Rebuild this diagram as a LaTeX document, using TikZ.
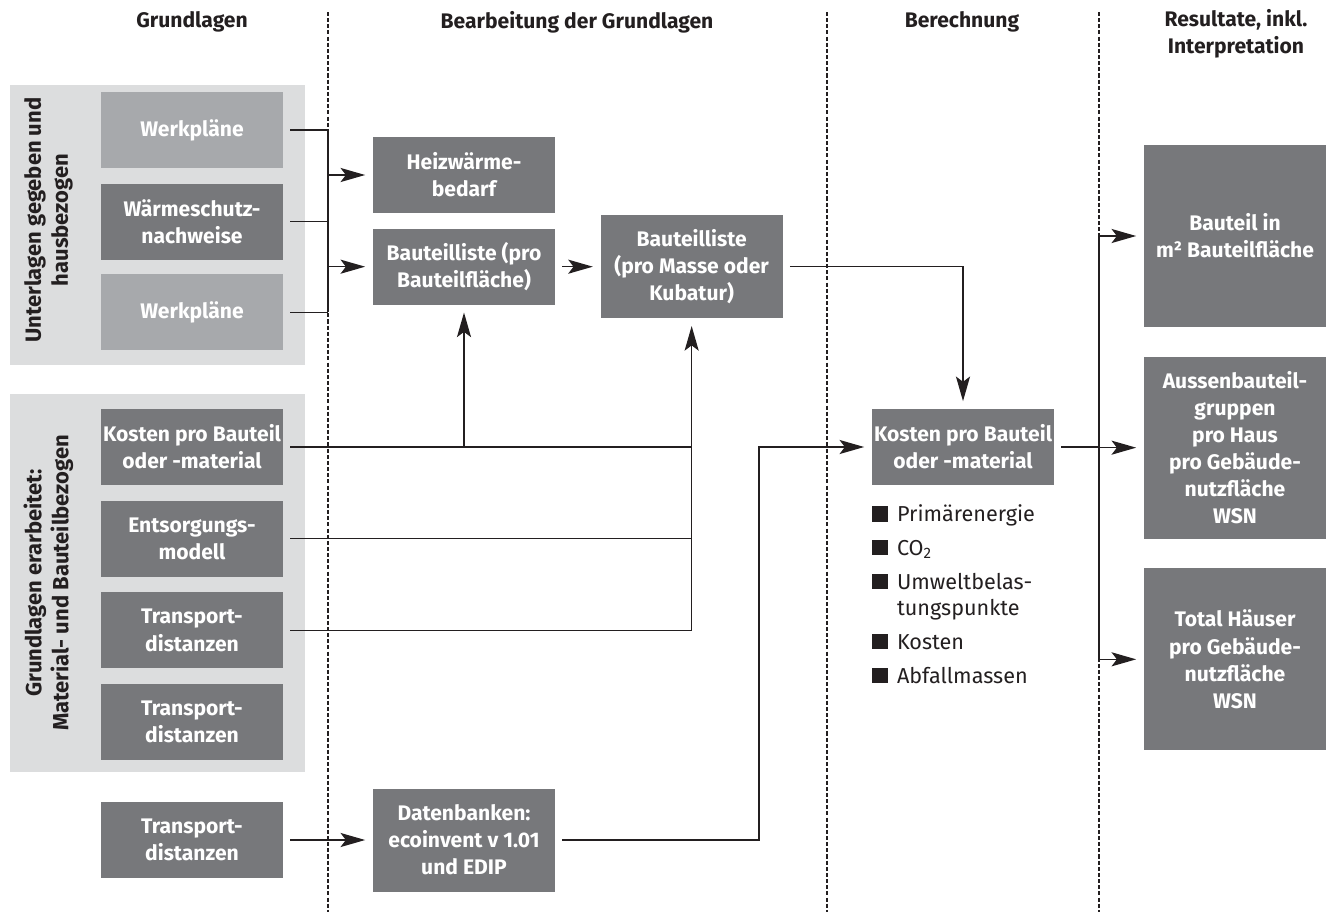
\documentclass[tikz,border=0pt]{standalone}
\usepackage{fontspec}
\setmainfont{Fira Sans}
\usetikzlibrary{arrows.meta,positioning,calc}
\definecolor{BoxDark}  {RGB}{119,120,123}
\definecolor{BoxLight} {RGB}{167,169,172}
\definecolor{PanelGray}{RGB}{220,221,222}
\definecolor{LineDark} {RGB}{ 35, 31, 32}
\newcommand{\bsq}{\textcolor{LineDark}{\rule{0.32cm}{0.31cm}}\hspace{0.18cm}}
\tikzset{
  %% Kaesten: dunkel / hell / gross / dreizeilig
  dbox/.style={rectangle,fill=BoxDark,text=white,
               minimum width=3.64cm,minimum height=1.52cm,inner sep=1pt,
               font=\fontsize{12pt}{15.4pt}\selectfont\bfseries,align=center},
  lbox/.style={dbox,fill=BoxLight},
  tbox/.style={dbox,minimum height=2.06cm},
  rbox/.style={dbox,minimum height=3.64cm},
  %% Hintergrundflaechen und Beschriftung
  panel/.style={rectangle,fill=PanelGray,minimum width=5.9cm,inner sep=0pt},
  plabel/.style={rotate=90,text=LineDark,align=center,
                 font=\fontsize{12.5pt}{15.4pt}\selectfont\bfseries},
  colhead/.style={text=LineDark,align=center,
                  font=\fontsize{12pt}{15.4pt}\selectfont\bfseries},
  bullets/.style={text=LineDark,align=left,inner sep=0pt,
                  font=\fontsize{12.3pt}{14.8pt}\selectfont},
  %% Linien
  sep/.style={LineDark,line width=0.6pt,dash pattern=on 2.3pt off 1.2pt},
  rail/.style={LineDark,line width=0.85pt},
  link/.style={rail,shorten <=0.14cm},
  feed/.style={rail,-{Stealth[length=14pt,width=8pt,inset=3pt]},shorten >=0.15cm},
  flow/.style={feed,shorten <=0.14cm},
}
\begin{document}
\begin{tikzpicture}[x=0.02cm,y=-0.02cm]
  \useasboundingbox (0,0) rectangle (1332,913);

  % Spaltentrenner
  \coordinate (sepA) at (328,12);
  \coordinate (sepB) at (827,12);
  \coordinate (sepC) at (1099,12);
  \draw[sep] (sepA) -- ++(0,900);
  \draw[sep] (sepB) -- ++(0,900);
  \draw[sep] (sepC) -- ++(0,900);

  % Spaltenkoepfe
  \node[colhead] (hA) at (192,22) {Grundlagen};
  \node[colhead] (hB) at (577,22) {Bearbeitung der Grundlagen};
  \node[colhead] (hC) at (962,22) {Berechnung};
  \node[colhead] (hD) at (1236,34) {Resultate, inkl.\\Interpretation};

  % Grundlagen
  \node[panel,minimum height=5.6cm] (pnlA) at (157.5,225) {};
  \node[panel,minimum height=7.56cm] (pnlB) at (157.5,583) {};
  \node[plabel] (pnlAtxt) at (48.5,220) {Unterlagen gegeben und\\hausbezogen};
  \node[plabel] (pnlBtxt) at (48.5,583) {Grundlagen erarbeitet:\\Material- und Bauteilbezogen};

  \node[lbox] (wp1) at (192,130) {Werkpläne};
  \node[dbox,below=0.3cm of wp1] (wsn) {Wärmeschutz-\\nachweise};
  \node[lbox,below=0.28cm of wsn] (wp2) {Werkpläne};

  \node[dbox] (kost) at (192,447) {Kosten pro Bauteil\\oder -material};
  \node[dbox,below=0.3cm of kost] (ents) {Entsorgungs-\\modell};
  \node[dbox,below=0.3cm of ents] (trans1) {Transport-\\distanzen};
  \node[dbox,below=0.3cm of trans1] (trans2) {Transport-\\distanzen};
  \node[dbox] (trans3) at (192,840) {Transport-\\distanzen};

  % Bearbeitung
  \node[dbox] (heiz) at (464,175) {Heizwärme-\\bedarf};
  \node[dbox,below=0.3cm of heiz] (bla) {Bauteilliste (pro\\Bauteilfläche)};
  \node[tbox,right=0.9cm of bla] (blb) {Bauteilliste\\(pro Masse oder\\Kubatur)};
  \node[tbox] (dat) at (464,840) {Datenbanken:\\ecoinvent v 1.01\\und EDIP};

  % Berechnung
  \node[dbox] (kostB) at (963,447) {Kosten pro Bauteil\\oder -material};
  \node[bullets,anchor=north west] (werte) at ([yshift=-0.38cm]kostB.south west) {%
    \bsq Primärenergie\\[4.5pt]
    \bsq CO\textsubscript{2}\\[4.5pt]
    \bsq Umweltbelas-\\
    \hphantom{\bsq}tungspunkte\\[4.5pt]
    \bsq Kosten\\[4.5pt]
    \bsq Abfallmassen};

  % Resultate
  \node[rbox] (res1) at (1235,236) {Bauteil in\\m² Bauteilfläche};
  \node[rbox,below=0.58cm of res1] (res2) {Aussenbauteil-\\gruppen\\pro Haus\\pro Gebäude-\\nutzfläche\\WSN};
  \node[rbox,below=0.58cm of res2] (res3) {Total Häuser\\pro Gebäude-\\nutzfläche\\WSN};

  % Verbindungen
  \draw[link] (wp1.east) -- (wp1.east -| sepA) -- (wp2.east -| sepA);
  \draw[link] (wsn.east) -- (wsn.east -| sepA);
  \draw[link] (wp2.east) -- (wp2.east -| sepA);
  \draw[feed] (heiz.west -| sepA) -- (heiz.west);
  \draw[feed] (bla.west -| sepA) -- (bla.west);

  \draw[flow] (bla) -- (blb);
  \draw[flow] (blb.east) -| (kostB.north);

  \draw[link] (kost.east) -- (kost.east -| blb.south);
  \draw[link] (ents.east) -- (ents.east -| blb.south);
  \draw[link] (trans1.east) -- (trans1.east -| blb.south);
  \draw[feed] (trans1.east -| blb.south) -- (blb.south);
  \draw[feed] (kost.east -| bla.south) -- (bla.south);

  \coordinate (jD) at (759,840);
  \draw[flow] (trans3) -- (dat);
  \draw[flow] (dat.east) -- (jD) |- (kostB.west);

  \draw[link] (kostB.east) -- (kostB.east -| sepC);
  \draw[rail] (res1.west -| sepC) -- (res3.west -| sepC);
  \draw[feed] (res1.west -| sepC) -- (res1.west);
  \draw[feed] (res2.west -| sepC) -- (res2.west);
  \draw[feed] (res3.west -| sepC) -- (res3.west);
\end{tikzpicture}
\end{document}
